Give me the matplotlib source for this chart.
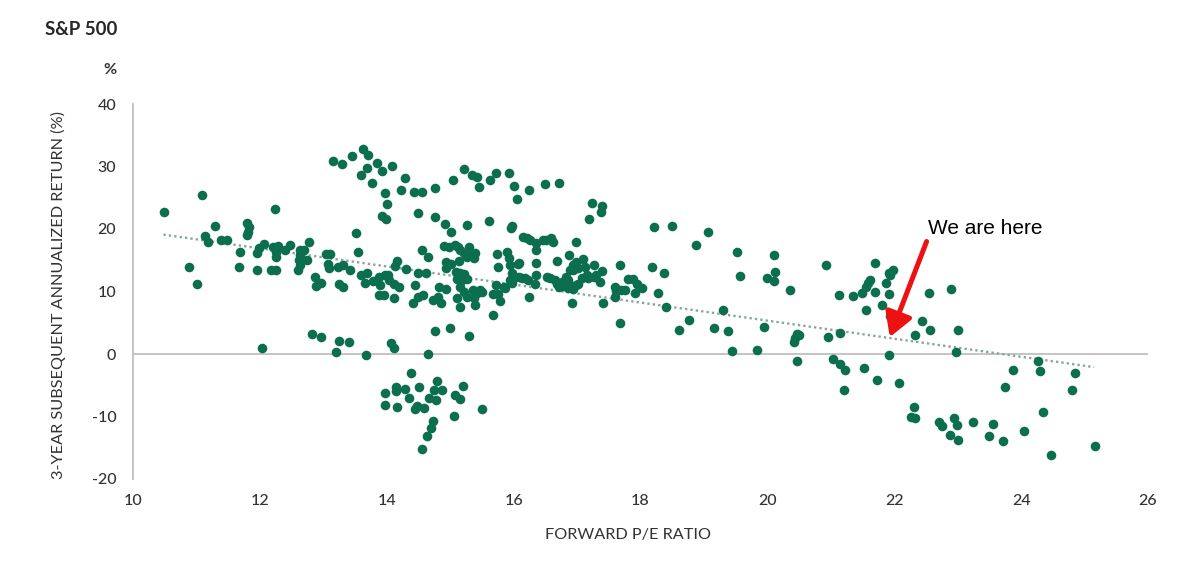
import matplotlib
matplotlib.use("Agg")
import matplotlib.pyplot as plt

# ---------------- data ----------------
pe = [
    10.49, 11.09, 11.30, 11.14, 11.19, 11.38, 11.48, 10.89, 11.01,
    11.79, 11.83, 11.82, 11.80, 11.69, 11.67, 11.95, 12.24,
    12.06, 11.98, 11.95, 12.17, 12.25, 12.04,
    12.21, 12.29, 12.26, 12.25, 12.40, 12.47,
    12.63, 12.70, 12.64, 12.62, 12.63, 12.60, 12.74, 12.77,
    12.87, 12.88, 12.96, 12.82, 12.96,
    13.05, 13.10, 13.08, 13.09, 13.25, 13.31, 13.23, 13.31, 13.42,
    13.51, 13.54,
    13.16, 13.30, 13.45, 13.63, 13.70, 13.69, 13.60, 13.76, 13.84, 13.93,
    13.98, 14.01, 13.92, 13.99,
    13.20, 13.40, 13.25, 13.68,
    13.60, 13.69, 13.66, 13.79, 13.88, 13.89, 13.87, 13.96, 13.98,
    14.09, 14.29, 14.22, 14.43, 14.55, 14.76, 14.49, 14.76, 14.92, 15.01, 15.27, 15.61,
    15.22, 15.35, 15.42, 15.05, 15.45, 15.63, 15.72, 15.93, 16.01, 16.06, 15.98, 15.96,
    14.02, 14.04,
    14.16, 14.13, 14.30, 14.12, 14.20, 14.11, 14.41, 14.44,
    14.50, 14.62, 14.56, 14.65,
    14.50, 14.57, 14.73, 14.80, 14.85, 14.82, 14.94,
    14.90, 14.98, 15.08, 15.12, 15.15, 15.22,
    14.93, 14.93, 15.02, 15.14,
    15.29, 15.30, 15.35, 15.38, 15.39, 15.27,
    15.09, 15.15, 15.22, 15.11, 15.19, 15.26, 15.16, 15.22, 15.26, 15.10, 15.36, 15.42,
    15.47, 15.50, 15.37, 15.39,
    15.67, 15.72, 15.68, 15.75, 15.79,
    15.74, 15.90, 15.93, 15.94, 15.98, 16.02, 16.07, 15.85,
    14.76, 14.99, 15.29,
    16.25, 16.49, 16.71, 17.24, 17.39, 17.37, 17.19, 18.22,
    15.16, 15.76, 16.09, 15.94, 15.86, 15.97,
    16.15, 16.21, 16.26, 16.35, 16.36, 16.46, 16.51, 16.59, 16.62,
    16.09, 16.13, 16.18, 16.23, 16.36, 16.35, 16.33, 16.25,
    16.52, 16.58, 16.65, 16.69, 16.72, 16.76, 16.83, 16.85, 16.78, 16.86, 16.89, 16.94,
    16.98, 17.02,
    16.87, 16.68, 16.99, 16.93, 16.94, 16.98, 17.09, 17.12, 17.15, 17.17, 17.26, 17.30,
    17.36, 17.40, 17.27, 17.02, 17.07, 16.89,
    16.92, 17.41,
    17.60, 17.62, 17.69, 17.75, 17.81, 17.88, 17.94, 18.02, 17.91, 17.60,
    17.67, 17.67, 18.18, 18.27,
    18.50, 19.06, 18.87, 18.37,
    18.40, 18.61, 18.76, 19.16, 19.38, 19.30, 19.44, 19.52, 19.57, 19.83, 19.95,
    20.10, 20.12, 19.99, 20.10, 20.36, 20.46, 20.50, 20.44, 20.42, 20.47, 20.93, 20.95, 21.14,
    21.13, 21.35, 21.49, 21.56, 21.62, 21.58, 21.69, 21.56, 21.80, 21.94,
    21.70, 21.87, 21.91, 21.94, 21.98, 21.92, 21.91,
    21.04, 21.15, 21.23, 21.21, 21.52, 21.73, 22.07,
    22.55, 22.90, 22.43, 22.33, 22.57, 23.00, 22.98, 22.31, 22.27, 22.32,
    22.71, 22.75, 22.88, 22.94, 22.99, 23.00, 23.24, 23.56, 23.50, 23.72,
    23.87, 23.74, 24.05, 24.27, 24.30, 24.34, 24.47, 24.85, 24.80, 25.16,
    14.07, 14.11, 14.65, 14.38,
    13.97, 13.97, 14.15, 14.15, 14.16, 14.29, 14.35, 14.51, 14.47, 14.45,
    14.59, 14.67, 14.74, 14.79, 14.77, 14.87, 14.73, 14.69, 14.63, 14.56,
    15.07, 15.15, 15.20, 15.06, 15.50,
]
ret = [
    22.8, 25.4, 20.5, 18.9, 17.9, 18.2, 18.2, 14.0, 11.2,
    20.9, 20.3, 19.5, 19.0, 16.3, 14.0, 13.4, 23.2,
    17.6, 16.9, 16.1, 13.5, 13.5, 1.0,
    17.1, 17.3, 16.4, 15.5, 16.6, 17.5,
    16.6, 16.7, 15.8, 15.0, 14.2, 13.4, 15.1, 17.9,
    12.3, 10.9, 11.3, 3.2, 2.8,
    16.0, 16.0, 14.4, 13.7, 11.2, 10.7, 14.0, 14.2, 13.4,
    19.3, 16.3,
    30.9, 30.4, 31.7, 32.8, 31.8, 29.8, 28.7, 27.3, 30.6, 29.3,
    25.7, 24.0, 22.1, 21.6,
    0.4, 2.0, 2.1, -0.1,
    12.7, 13.0, 11.4, 11.7, 12.3, 11.0, 9.4, 9.5, 12.6,
    30.1, 28.1, 26.3, 25.9, 25.9, 26.5, 22.5, 21.9, 20.8, 19.6, 20.6, 21.3,
    29.6, 28.6, 28.4, 27.9, 26.7, 27.9, 29.0, 29.0, 26.9, 24.8, 20.5, 20.1,
    12.7, 11.8,
    14.9, 14.1, 13.6, 11.2, 10.8, 9.0, 8.2, 11.1,
    13.0, 13.0, 16.6, 15.5,
    9.2, 9.4, 8.6, 9.2, 8.2, 10.8, 10.4,
    17.3, 17.1, 17.4, 17.1, 16.6, 16.1,
    14.8, 13.7, 14.4, 14.9,
    17.1, 16.1, 15.8, 15.3, 16.1, 15.6,
    13.2, 13.0, 12.8, 12.0, 11.9, 12.0, 10.8, 10.0, 9.2, 8.9, 10.2, 9.7,
    10.3, 10.0, 8.9, 7.9,
    6.2, 11.0, 9.6, 9.6, 8.5,
    16.0, 16.3, 15.3, 14.2, 12.9, 12.4, 14.4, 10.8,
    3.7, 4.2, 2.9,
    26.3, 27.2, 27.3, 24.1, 23.7, 22.8, 21.6, 20.4,
    7.6, 13.9, 14.5, 11.8, 10.6, 11.4,
    18.7, 18.6, 18.3, 17.8, 16.6, 18.2, 18.2, 18.5, 18.0,
    12.4, 12.1, 12.1, 11.8, 12.6, 14.5, 11.2, 9.2,
    12.3, 12.1, 11.8, 11.2, 10.8, 11.6, 12.4, 11.9, 10.9, 10.5, 10.9, 10.4,
    11.1, 11.2,
    15.8, 14.9, 18.0, 14.2, 13.4, 14.8, 15.2, 13.9, 12.6, 12.1, 12.4, 12.6,
    11.6, 13.3, 14.2, 13.7, 12.1, 13.4,
    8.1, 8.2,
    10.8, 10.1, 10.2, 10.3, 12.0, 12.0, 11.2, 10.5, 9.7, 9.2,
    14.2, 4.9, 14.0, 9.7,
    20.5, 19.6, 17.4, 13.0,
    7.6, 3.9, 5.4, 4.2, 3.7, 7.0, 0.5, 16.3, 12.5, 0.6, 4.4,
    15.9, 13.1, 12.1, 11.7, 10.2, 3.2, 3.0, 2.5, 2.0, -1.1, 14.3, 2.7, 3.4,
    9.4, 9.3, 9.7, 10.8, 11.8, 11.3, 10.0, 7.0, 7.8, 6.1,
    14.5, 11.4, 9.6, 12.6, 13.5, 13.0, -0.1,
    -0.8, -1.6, -2.6, -5.7, -2.3, -4.2, -4.7,
    9.8, 10.4, 5.3, 3.0, 3.8, 3.8, 0.3, -8.4, -10.1, -10.3,
    -10.8, -11.5, -13.0, -10.3, -11.4, -13.7, -10.8, -11.2, -13.1, -13.9,
    -2.6, -5.3, -12.3, -1.1, -2.7, -9.2, -16.2, -3.0, -5.8, -14.7,
    1.7, 0.9, 0.0, -3.0,
    -6.2, -8.2, -5.2, -5.9, -8.5, -5.6, -7.0, -5.3, -8.3, -8.8,
    -8.7, -7.1, -5.8, -4.3, -7.3, -5.8, -10.7, -11.9, -13.1, -15.2,
    -6.6, -7.2, -5.1, -9.9, -8.8,
]

trend_x = [10.48, 25.15]
trend_y = [19.1, -2.1]

x_ticks = [10, 12, 14, 16, 18, 20, 22, 24, 26]
y_ticks = [-20, -10, 0, 10, 20, 30, 40]

title = "S&P 500"
unit_label = "%"
y_label = "3-YEAR SUBSEQUENT ANNUALIZED RETURN (%)"
x_label = "FORWARD P/E RATIO"
note = "We are here"
note_tip = (21.93, 2.7)
note_tail = (22.51, 18.0)
note_pos = (22.53, 20.0)

# ---------------- style ----------------
plt.rcParams['font.family'] = ['Lato', 'DejaVu Sans']
DOT = '#0a6e4f'
GREY = '#bfbfbf'
TXT = '#333333'

fig = plt.figure(figsize=(12, 5.62), dpi=100)
ax = fig.add_axes([133 / 1200, 1 - 479 / 562, (1148 - 133) / 1200, (479 - 104) / 562])

ax.axhline(0, color=GREY, lw=1.3, zorder=1)
ax.plot(trend_x, trend_y, color='#8aa59c', lw=1.7, linestyle=(0, (1, 1.3)), zorder=2)
ax.scatter(pe, ret, s=48, color=DOT, linewidths=0, zorder=3)

ax.set_xlim(10, 26)
ax.set_ylim(-20, 40)
ax.set_xticks(x_ticks)
ax.set_yticks(y_ticks)
ax.set_xticklabels([str(v) for v in x_ticks])
ax.set_yticklabels([str(v) for v in y_ticks])
ax.tick_params(axis='both', length=0, labelsize=11.5, labelcolor=TXT)
ax.tick_params(axis='y', pad=12)
ax.tick_params(axis='x', pad=11)
for lab in ax.get_xticklabels() + ax.get_yticklabels():
    lab.set_fontweight('medium')

for s in ['top', 'right', 'bottom']:
    ax.spines[s].set_visible(False)
ax.spines['left'].set_color(GREY)
ax.spines['left'].set_linewidth(1.3)

# arrow + note
ax.annotate('', xy=note_tip, xytext=note_tail,
            arrowprops=dict(arrowstyle='-|>,head_length=0.55,head_width=0.32',
                            color='#ee1111', lw=3.6,
                            mutation_scale=26, shrinkA=0, shrinkB=0),
            zorder=5)
ax.text(note_pos[0], note_pos[1], note, ha='left', va='center', fontsize=15,
        family=['Liberation Sans', 'DejaVu Sans'], color='black')

fig.text(45 / 1200, 1 - 29.5 / 562, title, ha='left', va='center',
         fontsize=13.5, fontweight='bold', color='#262626')
fig.text(117 / 1200, 1 - 70 / 562, unit_label, ha='right', va='center',
         fontsize=11.5, fontweight='bold', color=TXT)
fig.text(58 / 1200, 1 - 295 / 562, y_label, rotation=90, ha='center', va='center',
         fontsize=11.7, color=TXT)
fig.text(628 / 1200, 1 - 535 / 562, x_label, ha='center', va='center',
         fontsize=11.7, color=TXT)

fig.savefig('out.png', dpi=100)
